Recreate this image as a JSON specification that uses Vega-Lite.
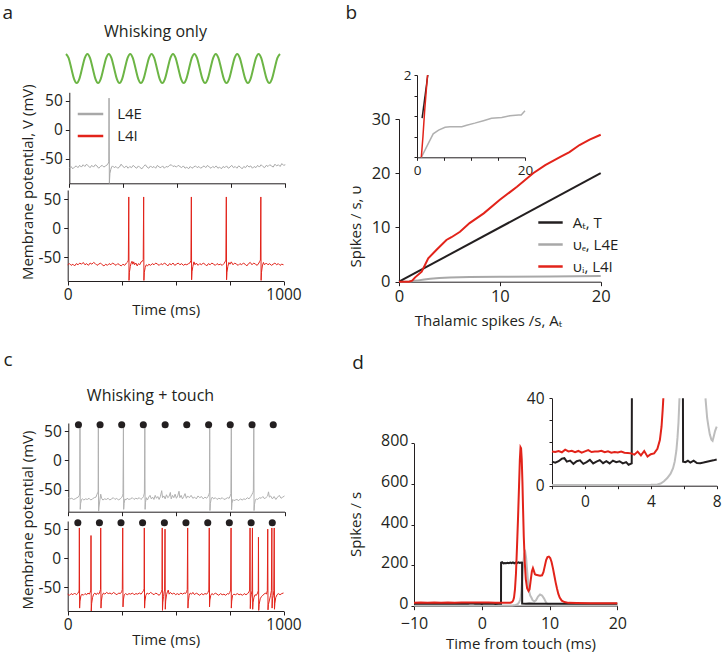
{
"$schema": "https://vega.github.io/schema/vega-lite/v6.json",
"width": 722, "height": 654, "autosize": {"type": "none"}, "padding": 0, "background": "white",
"datasets": {
"sine": [{"t":0,"v":1},{"t":12.5,"v":0.71},{"t":25,"v":0},{"t":37.5,"v":-0.71},{"t":50,"v":-1},{"t":62.5,"v":-0.71},{"t":75,"v":0},{"t":87.5,"v":0.71},
{"t":100,"v":1},{"t":112.5,"v":0.71},{"t":125,"v":0},{"t":137.5,"v":-0.71},{"t":150,"v":-1},{"t":162.5,"v":-0.71},{"t":175,"v":0},{"t":187.5,"v":0.71},
{"t":200,"v":1},{"t":212.5,"v":0.71},{"t":225,"v":0},{"t":237.5,"v":-0.71},{"t":250,"v":-1},{"t":262.5,"v":-0.71},{"t":275,"v":0},{"t":287.5,"v":0.71},
{"t":300,"v":1},{"t":312.5,"v":0.71},{"t":325,"v":0},{"t":337.5,"v":-0.71},{"t":350,"v":-1},{"t":362.5,"v":-0.71},{"t":375,"v":0},{"t":387.5,"v":0.71},
{"t":400,"v":1},{"t":412.5,"v":0.71},{"t":425,"v":0},{"t":437.5,"v":-0.71},{"t":450,"v":-1},{"t":462.5,"v":-0.71},{"t":475,"v":0},{"t":487.5,"v":0.71},
{"t":500,"v":1},{"t":512.5,"v":0.71},{"t":525,"v":0},{"t":537.5,"v":-0.71},{"t":550,"v":-1},{"t":562.5,"v":-0.71},{"t":575,"v":0},{"t":587.5,"v":0.71},
{"t":600,"v":1},{"t":612.5,"v":0.71},{"t":625,"v":0},{"t":637.5,"v":-0.71},{"t":650,"v":-1},{"t":662.5,"v":-0.71},{"t":675,"v":0},{"t":687.5,"v":0.71},
{"t":700,"v":1},{"t":712.5,"v":0.71},{"t":725,"v":0},{"t":737.5,"v":-0.71},{"t":750,"v":-1},{"t":762.5,"v":-0.71},{"t":775,"v":0},{"t":787.5,"v":0.71},
{"t":800,"v":1},{"t":812.5,"v":0.71},{"t":825,"v":0},{"t":837.5,"v":-0.71},{"t":850,"v":-1},{"t":862.5,"v":-0.71},{"t":875,"v":0},{"t":887.5,"v":0.71},
{"t":900,"v":1},{"t":912.5,"v":0.71},{"t":925,"v":0},{"t":937.5,"v":-0.71},{"t":950,"v":-1},{"t":962.5,"v":-0.71},{"t":975,"v":0},{"t":987.5,"v":0.71},{"t":1000,"v":1}],
"aE": [{"t":0,"v":-66},{"t":8,"v":-63},{"t":16,"v":-67},{"t":24,"v":-64},{"t":32,"v":-62},{"t":40,"v":-65},{"t":48,"v":-61},{"t":56,"v":-64},{"t":64,"v":-60},{"t":72,"v":-63},{"t":80,"v":-59},{"t":88,"v":-62},{"t":96,"v":-65},{"t":104,"v":-61},{"t":112,"v":-64},{"t":120,"v":-60},{"t":128,"v":-62},{"t":136,"v":-66},{"t":144,"v":-63},{"t":152,"v":-61},{"t":160,"v":-64},{"t":168,"v":-62},{"t":176,"v":-60},{"t":181,"v":-57},{"t":183,"v":-55},{"t":184,"v":55},{"t":185.5,"v":-92},{"t":188,"v":-75},{"t":192,"v":-68},{"t":196,"v":-64},{"t":200,"v":-62},{"t":208,"v":-65},{"t":216,"v":-63},{"t":224,"v":-66},{"t":232,"v":-64},{"t":240,"v":-59},{"t":248,"v":-63},{"t":256,"v":-65},{"t":264,"v":-62},{"t":272,"v":-66},{"t":280,"v":-63},{"t":288,"v":-65},{"t":296,"v":-61},{"t":304,"v":-64},{"t":312,"v":-66},{"t":320,"v":-62},{"t":328,"v":-65},{"t":336,"v":-67},{"t":344,"v":-63},{"t":352,"v":-60},{"t":360,"v":-64},{"t":368,"v":-66},{"t":376,"v":-62},{"t":384,"v":-65},{"t":392,"v":-63},{"t":400,"v":-66},{"t":408,"v":-61},{"t":416,"v":-64},{"t":424,"v":-65},{"t":432,"v":-62},{"t":440,"v":-66},{"t":448,"v":-63},{"t":456,"v":-64},{"t":464,"v":-61},{"t":472,"v":-60},{"t":480,"v":-63},{"t":488,"v":-62},{"t":496,"v":-64},{"t":504,"v":-61},{"t":512,"v":-63},{"t":520,"v":-65},{"t":528,"v":-62},{"t":536,"v":-66},{"t":544,"v":-64},{"t":552,"v":-67},{"t":560,"v":-63},{"t":568,"v":-66},{"t":576,"v":-64},{"t":584,"v":-62},{"t":592,"v":-65},{"t":600,"v":-63},{"t":608,"v":-66},{"t":616,"v":-64},{"t":624,"v":-62},{"t":632,"v":-65},{"t":640,"v":-61},{"t":648,"v":-64},{"t":656,"v":-66},{"t":664,"v":-63},{"t":672,"v":-65},{"t":680,"v":-62},{"t":688,"v":-66},{"t":696,"v":-64},{"t":704,"v":-67},{"t":712,"v":-63},{"t":720,"v":-65},{"t":728,"v":-62},{"t":736,"v":-66},{"t":744,"v":-64},{"t":752,"v":-61},{"t":760,"v":-65},{"t":768,"v":-63},{"t":776,"v":-66},{"t":784,"v":-62},{"t":792,"v":-64},{"t":800,"v":-67},{"t":808,"v":-63},{"t":816,"v":-65},{"t":824,"v":-61},{"t":832,"v":-64},{"t":840,"v":-62},{"t":848,"v":-66},{"t":856,"v":-63},{"t":864,"v":-65},{"t":872,"v":-61},{"t":880,"v":-64},{"t":888,"v":-60},{"t":896,"v":-63},{"t":904,"v":-65},{"t":912,"v":-61},{"t":920,"v":-63},{"t":928,"v":-60},{"t":936,"v":-62},{"t":944,"v":-64},{"t":952,"v":-59},{"t":960,"v":-62},{"t":968,"v":-60},{"t":976,"v":-63},{"t":984,"v":-58},{"t":992,"v":-61},{"t":1000,"v":-60}],
"aI": [{"t":0,"v":-63},{"t":8,"v":-61},{"t":16,"v":-64},{"t":24,"v":-62},{"t":32,"v":-65},{"t":40,"v":-61},{"t":48,"v":-63},{"t":56,"v":-60},{"t":64,"v":-62},{"t":72,"v":-59},{"t":80,"v":-63},{"t":88,"v":-61},{"t":96,"v":-64},{"t":104,"v":-60},{"t":112,"v":-62},{"t":120,"v":-59},{"t":128,"v":-61},{"t":136,"v":-64},{"t":144,"v":-62},{"t":152,"v":-60},{"t":160,"v":-63},{"t":168,"v":-65},{"t":176,"v":-62},{"t":184,"v":-64},{"t":192,"v":-61},{"t":200,"v":-63},{"t":208,"v":-60},{"t":216,"v":-62},{"t":224,"v":-64},{"t":232,"v":-61},{"t":240,"v":-63},{"t":248,"v":-65},{"t":256,"v":-62},{"t":264,"v":-64},{"t":272,"v":-60},{"t":278,"v":-58},{"t":281,"v":-55},{"t":283,"v":54},{"t":284.2,"v":-90},{"t":286,"v":-76},{"t":290,"v":-66},{"t":294,"v":-60},{"t":298,"v":-57},{"t":302,"v":-62},{"t":306,"v":-58},{"t":310,"v":-63},{"t":316,"v":-60},{"t":322,"v":-65},{"t":328,"v":-61},{"t":334,"v":-63},{"t":340,"v":-58},{"t":346,"v":-57},{"t":350,"v":-54},{"t":352,"v":54},{"t":353.2,"v":-90},{"t":355,"v":-76},{"t":359,"v":-68},{"t":364,"v":-63},{"t":370,"v":-65},{"t":376,"v":-62},{"t":384,"v":-64},{"t":392,"v":-61},{"t":400,"v":-63},{"t":408,"v":-60},{"t":416,"v":-62},{"t":424,"v":-64},{"t":432,"v":-61},{"t":440,"v":-63},{"t":448,"v":-60},{"t":456,"v":-62},{"t":464,"v":-65},{"t":472,"v":-61},{"t":480,"v":-63},{"t":488,"v":-60},{"t":496,"v":-64},{"t":504,"v":-62},{"t":512,"v":-60},{"t":520,"v":-63},{"t":528,"v":-61},{"t":536,"v":-64},{"t":544,"v":-62},{"t":552,"v":-63},{"t":560,"v":-61},{"t":566,"v":-60},{"t":571,"v":-56},{"t":573,"v":54},{"t":574.2,"v":-89},{"t":576,"v":-75},{"t":580,"v":-66},{"t":585,"v":-58},{"t":590,"v":-63},{"t":596,"v":-60},{"t":604,"v":-64},{"t":612,"v":-61},{"t":620,"v":-63},{"t":628,"v":-60},{"t":636,"v":-62},{"t":644,"v":-65},{"t":652,"v":-61},{"t":660,"v":-63},{"t":668,"v":-60},{"t":676,"v":-62},{"t":684,"v":-64},{"t":692,"v":-61},{"t":700,"v":-63},{"t":708,"v":-62},{"t":716,"v":-64},{"t":724,"v":-61},{"t":729,"v":-58},{"t":733,"v":-55},{"t":735,"v":54},{"t":736.2,"v":-89},{"t":738,"v":-76},{"t":742,"v":-66},{"t":747,"v":-59},{"t":752,"v":-62},{"t":758,"v":-58},{"t":766,"v":-63},{"t":774,"v":-60},{"t":782,"v":-62},{"t":790,"v":-64},{"t":798,"v":-61},{"t":806,"v":-63},{"t":814,"v":-60},{"t":822,"v":-62},{"t":830,"v":-65},{"t":838,"v":-61},{"t":846,"v":-59},{"t":854,"v":-63},{"t":862,"v":-60},{"t":870,"v":-62},{"t":878,"v":-64},{"t":886,"v":-60},{"t":890,"v":-57},{"t":893,"v":-55},{"t":895,"v":54},{"t":896.2,"v":-90},{"t":898,"v":-76},{"t":902,"v":-65},{"t":907,"v":-59},{"t":912,"v":-63},{"t":920,"v":-60},{"t":928,"v":-63},{"t":936,"v":-61},{"t":944,"v":-64},{"t":952,"v":-62},{"t":960,"v":-60},{"t":968,"v":-63},{"t":976,"v":-61},{"t":984,"v":-64},{"t":992,"v":-62},{"t":1000,"v":-63}],
"cE": [{"t":0,"v":-64},{"t":8,"v":-66},{"t":16,"v":-65},{"t":24,"v":-67},{"t":32,"v":-66},{"t":40,"v":-64},{"t":46,"v":-63},{"t":51,"v":-60},{"t":53,"v":-56},{"t":54,"v":60},{"t":55.2,"v":-84},{"t":57,"v":-74},{"t":61,"v":-67},{"t":66,"v":-66},{"t":72,"v":-68},{"t":80,"v":-66},{"t":88,"v":-67},{"t":96,"v":-65},{"t":104,"v":-68},{"t":112,"v":-66},{"t":120,"v":-64},{"t":128,"v":-63},{"t":133,"v":-58},{"t":136,"v":-55},{"t":138,"v":-53},{"t":139,"v":60},{"t":140.2,"v":-88},{"t":142,"v":-80},{"t":146,"v":-68},{"t":150,"v":-58},{"t":154,"v":-65},{"t":160,"v":-68},{"t":168,"v":-66},{"t":176,"v":-67},{"t":184,"v":-65},{"t":192,"v":-68},{"t":200,"v":-66},{"t":208,"v":-64},{"t":216,"v":-67},{"t":224,"v":-65},{"t":232,"v":-68},{"t":240,"v":-66},{"t":246,"v":-64},{"t":251,"v":-61},{"t":253,"v":-57},{"t":255,"v":60},{"t":256.2,"v":-84},{"t":258,"v":-74},{"t":262,"v":-66},{"t":266,"v":-68},{"t":272,"v":-65},{"t":280,"v":-67},{"t":288,"v":-66},{"t":296,"v":-64},{"t":304,"v":-67},{"t":312,"v":-65},{"t":320,"v":-66},{"t":328,"v":-64},{"t":336,"v":-67},{"t":342,"v":-65},{"t":348,"v":-62},{"t":352,"v":-56},{"t":354,"v":60},{"t":355.2,"v":-84},{"t":357,"v":-72},{"t":361,"v":-64},{"t":366,"v":-68},{"t":372,"v":-63},{"t":378,"v":-60},{"t":384,"v":-66},{"t":390,"v":-63},{"t":396,"v":-67},{"t":402,"v":-60},{"t":408,"v":-65},{"t":414,"v":-62},{"t":420,"v":-67},{"t":426,"v":-62},{"t":432,"v":-52},{"t":436,"v":-64},{"t":442,"v":-61},{"t":448,"v":-66},{"t":454,"v":-59},{"t":460,"v":-64},{"t":466,"v":-62},{"t":472,"v":-55},{"t":476,"v":-66},{"t":482,"v":-60},{"t":488,"v":-64},{"t":494,"v":-58},{"t":500,"v":-65},{"t":506,"v":-61},{"t":512,"v":-53},{"t":516,"v":-64},{"t":522,"v":-60},{"t":528,"v":-66},{"t":534,"v":-62},{"t":540,"v":-57},{"t":546,"v":-65},{"t":552,"v":-61},{"t":560,"v":-64},{"t":568,"v":-60},{"t":576,"v":-65},{"t":584,"v":-63},{"t":592,"v":-66},{"t":600,"v":-61},{"t":608,"v":-64},{"t":616,"v":-62},{"t":624,"v":-66},{"t":632,"v":-63},{"t":640,"v":-65},{"t":646,"v":-62},{"t":651,"v":-58},{"t":653,"v":-55},{"t":654,"v":60},{"t":655.2,"v":-86},{"t":657,"v":-74},{"t":661,"v":-66},{"t":666,"v":-63},{"t":672,"v":-66},{"t":680,"v":-64},{"t":688,"v":-67},{"t":696,"v":-65},{"t":704,"v":-66},{"t":712,"v":-64},{"t":720,"v":-67},{"t":728,"v":-66},{"t":736,"v":-64},{"t":744,"v":-65},{"t":749,"v":-61},{"t":752,"v":-57},{"t":754,"v":60},{"t":755.2,"v":-85},{"t":757,"v":-74},{"t":761,"v":-67},{"t":766,"v":-69},{"t":772,"v":-68},{"t":780,"v":-67},{"t":788,"v":-69},{"t":796,"v":-66},{"t":804,"v":-68},{"t":812,"v":-66},{"t":820,"v":-67},{"t":828,"v":-64},{"t":836,"v":-66},{"t":844,"v":-62},{"t":850,"v":-58},{"t":854,"v":-55},{"t":856,"v":-52},{"t":858,"v":60},{"t":859.2,"v":-86},{"t":861,"v":-76},{"t":865,"v":-68},{"t":870,"v":-66},{"t":876,"v":-67},{"t":884,"v":-64},{"t":892,"v":-65},{"t":900,"v":-62},{"t":908,"v":-66},{"t":916,"v":-63},{"t":922,"v":-61},{"t":926,"v":-54},{"t":930,"v":-63},{"t":936,"v":-61},{"t":944,"v":-66},{"t":952,"v":-62},{"t":960,"v":-67},{"t":968,"v":-63},{"t":976,"v":-60},{"t":984,"v":-65},{"t":992,"v":-63},{"t":1000,"v":-61}],
"cI": [{"t":0,"v":-62},{"t":8,"v":-64},{"t":16,"v":-61},{"t":24,"v":-63},{"t":32,"v":-60},{"t":40,"v":-63},{"t":46,"v":-61},{"t":51,"v":-58},{"t":53,"v":-55},{"t":54,"v":52},{"t":55.2,"v":-86},{"t":57,"v":-74},{"t":61,"v":-65},{"t":66,"v":-62},{"t":72,"v":-64},{"t":80,"v":-61},{"t":88,"v":-63},{"t":94,"v":-60},{"t":100,"v":-62},{"t":104,"v":-59},{"t":107,"v":-55},{"t":108,"v":39},{"t":109.2,"v":-91},{"t":111,"v":-78},{"t":115,"v":-68},{"t":120,"v":-62},{"t":126,"v":-60},{"t":132,"v":-63},{"t":138,"v":-60},{"t":144,"v":-62},{"t":149,"v":-58},{"t":152,"v":-54},{"t":153,"v":52},{"t":154.2,"v":-86},{"t":156,"v":-74},{"t":160,"v":-64},{"t":166,"v":-60},{"t":172,"v":-62},{"t":180,"v":-59},{"t":188,"v":-61},{"t":196,"v":-60},{"t":204,"v":-62},{"t":212,"v":-59},{"t":220,"v":-61},{"t":228,"v":-63},{"t":236,"v":-60},{"t":244,"v":-61},{"t":250,"v":-58},{"t":253,"v":-54},{"t":255,"v":52},{"t":256.2,"v":-84},{"t":258,"v":-72},{"t":262,"v":-63},{"t":268,"v":-61},{"t":276,"v":-63},{"t":284,"v":-61},{"t":292,"v":-62},{"t":300,"v":-60},{"t":308,"v":-63},{"t":316,"v":-61},{"t":324,"v":-62},{"t":332,"v":-60},{"t":340,"v":-62},{"t":346,"v":-59},{"t":351,"v":-56},{"t":354,"v":-53},{"t":355,"v":52},{"t":356.2,"v":-86},{"t":358,"v":-74},{"t":362,"v":-64},{"t":368,"v":-60},{"t":376,"v":-62},{"t":384,"v":-59},{"t":392,"v":-61},{"t":400,"v":-63},{"t":408,"v":-60},{"t":416,"v":-62},{"t":424,"v":-64},{"t":430,"v":-61},{"t":435,"v":-57},{"t":437,"v":-54},{"t":438,"v":52},{"t":439.2,"v":-90},{"t":441,"v":-76},{"t":444,"v":-66},{"t":447,"v":-58},{"t":449,"v":-55},{"t":451,"v":50},{"t":452.2,"v":-88},{"t":454,"v":-74},{"t":458,"v":-63},{"t":462,"v":-58},{"t":466,"v":-55},{"t":470,"v":-62},{"t":476,"v":-59},{"t":484,"v":-62},{"t":492,"v":-60},{"t":500,"v":-63},{"t":508,"v":-61},{"t":516,"v":-63},{"t":524,"v":-60},{"t":532,"v":-62},{"t":540,"v":-60},{"t":546,"v":-61},{"t":551,"v":-58},{"t":554,"v":-54},{"t":556,"v":52},{"t":557.2,"v":-86},{"t":559,"v":-74},{"t":563,"v":-64},{"t":568,"v":-60},{"t":574,"v":-62},{"t":580,"v":-59},{"t":588,"v":-63},{"t":596,"v":-60},{"t":604,"v":-62},{"t":612,"v":-64},{"t":620,"v":-61},{"t":628,"v":-63},{"t":636,"v":-61},{"t":644,"v":-62},{"t":650,"v":-59},{"t":654,"v":-55},{"t":656,"v":52},{"t":657.2,"v":-84},{"t":659,"v":-72},{"t":663,"v":-64},{"t":668,"v":-61},{"t":676,"v":-63},{"t":684,"v":-60},{"t":692,"v":-62},{"t":700,"v":-64},{"t":708,"v":-61},{"t":716,"v":-63},{"t":724,"v":-62},{"t":732,"v":-64},{"t":740,"v":-61},{"t":746,"v":-62},{"t":751,"v":-59},{"t":755,"v":-55},{"t":757,"v":52},{"t":758.2,"v":-86},{"t":760,"v":-74},{"t":764,"v":-64},{"t":770,"v":-62},{"t":778,"v":-63},{"t":786,"v":-61},{"t":794,"v":-63},{"t":802,"v":-62},{"t":810,"v":-64},{"t":818,"v":-61},{"t":826,"v":-63},{"t":834,"v":-61},{"t":840,"v":-58},{"t":843,"v":-55},{"t":845,"v":52},{"t":846.2,"v":-87},{"t":848,"v":-70},{"t":851,"v":-62},{"t":854,"v":-56},{"t":856,"v":52},{"t":857.2,"v":-88},{"t":859,"v":-76},{"t":863,"v":-68},{"t":868,"v":-63},{"t":874,"v":-64},{"t":880,"v":-60},{"t":883,"v":-56},{"t":884,"v":36},{"t":885.2,"v":-90},{"t":887,"v":-80},{"t":892,"v":-70},{"t":898,"v":-66},{"t":904,"v":-64},{"t":910,"v":-62},{"t":916,"v":-60},{"t":921,"v":-62},{"t":925,"v":-56},{"t":927,"v":50},{"t":928.2,"v":-89},{"t":930,"v":-80},{"t":935,"v":-72},{"t":940,"v":-64},{"t":944,"v":-56},{"t":946,"v":52},{"t":947.2,"v":-86},{"t":949,"v":-70},{"t":953,"v":-64},{"t":955,"v":-56},{"t":957,"v":52},{"t":958.2,"v":-88},{"t":960,"v":-78},{"t":964,"v":-68},{"t":970,"v":-63},{"t":976,"v":-61},{"t":984,"v":-63},{"t":992,"v":-61},{"t":1000,"v":-60}],
"dots": [{"t":47,"v":61},{"t":147,"v":61},{"t":247,"v":61},{"t":347,"v":61},{"t":448,"v":61},{"t":548,"v":61},{"t":649,"v":61},{"t":749,"v":61},{"t":850,"v":61},{"t":948,"v":61}],
"bBlack": [{"x":0,"y":0},{"x":20,"y":20}],
"bGray": [{"x":0,"y":0},{"x":1,"y":0.05},{"x":1.75,"y":0.2},{"x":2.5,"y":0.42},{"x":3.1,"y":0.55},{"x":4,"y":0.68},{"x":5.05,"y":0.78},{"x":7,"y":0.85},{"x":10,"y":0.9},{"x":15,"y":0.97},{"x":20,"y":1.05}],
"bRed": [{"x":0,"y":0},{"x":1.0,"y":0},{"x":1.3,"y":0.2},{"x":1.6,"y":0.8},{"x":2.25,"y":1.85},{"x":2.9,"y":4.3},{"x":3.7,"y":5.85},{"x":4.7,"y":7.7},{"x":5.2,"y":8.2},{"x":6.05,"y":9.2},{"x":7.0,"y":10.8},{"x":8.4,"y":12.6},{"x":10.0,"y":15.1},{"x":11.7,"y":17.5},{"x":13.3,"y":20.0},{"x":14.5,"y":21.5},{"x":16.0,"y":23.0},{"x":16.9,"y":23.9},{"x":17.9,"y":25.2},{"x":18.9,"y":26.2},{"x":20,"y":27.1}],
"bInGray": [{"x":0.8,"y":0},{"x":1.5,"y":0.18},{"x":2.1,"y":0.34},{"x":3.0,"y":0.57},{"x":4.0,"y":0.66},{"x":5.2,"y":0.73},{"x":6.1,"y":0.745},{"x":8.3,"y":0.745},{"x":9.2,"y":0.78},{"x":10.7,"y":0.83},{"x":12.3,"y":0.89},{"x":13.8,"y":0.95},{"x":15.7,"y":0.97},{"x":17.2,"y":1.01},{"x":18.8,"y":1.03},{"x":19.3,"y":1.03},{"x":20,"y":1.13}],
"bInBlack": [{"x":0.95,"y":0.95},{"x":2,"y":2}],
"bInRed": [{"x":0.8,"y":0},{"x":1.1,"y":0.5},{"x":1.4,"y":1.1},{"x":1.7,"y":1.6},{"x":1.95,"y":2.0}],
"dBlack": [{"x":-10,"y":10},{"x":-9,"y":11},{"x":-8,"y":9},{"x":-7,"y":10},{"x":-6,"y":11},{"x":-5,"y":9},{"x":-4,"y":10},{"x":-3,"y":11},{"x":-2,"y":10},{"x":-1.5,"y":12},{"x":-1,"y":10},{"x":-0.5,"y":11},{"x":0,"y":9},{"x":0.5,"y":11},{"x":1,"y":10},{"x":1.5,"y":11},{"x":2,"y":9},{"x":2.5,"y":10},{"x":2.84,"y":10},{"x":2.85,"y":212},{"x":3.0,"y":214},{"x":3.2,"y":208},{"x":3.4,"y":210},{"x":3.6,"y":209},{"x":3.8,"y":211},{"x":4.0,"y":209},{"x":4.2,"y":212},{"x":4.4,"y":210},{"x":4.6,"y":213},{"x":4.8,"y":209},{"x":5.0,"y":212},{"x":5.2,"y":210},{"x":5.4,"y":214},{"x":5.6,"y":211},{"x":5.8,"y":213},{"x":5.95,"y":212},{"x":5.96,"y":11},{"x":6.5,"y":10},{"x":7,"y":11},{"x":8,"y":10},{"x":9,"y":10},{"x":10,"y":9},{"x":11,"y":10},{"x":12,"y":9},{"x":13,"y":10},{"x":14,"y":9},{"x":15,"y":10},{"x":16,"y":9},{"x":17,"y":10},{"x":18,"y":9},{"x":19,"y":10},{"x":20,"y":10}],
"dGray": [{"x":-10,"y":0.5},{"x":-5,"y":0.5},{"x":0,"y":0.5},{"x":3,"y":0.5},{"x":4.5,"y":1},{"x":5,"y":3.5},{"x":5.3,"y":8},{"x":5.5,"y":16},{"x":5.65,"y":28},{"x":5.75,"y":40},{"x":5.85,"y":75},{"x":6.0,"y":150},{"x":6.15,"y":220},{"x":6.3,"y":258},{"x":6.42,"y":265},{"x":6.55,"y":235},{"x":6.7,"y":170},{"x":6.85,"y":110},{"x":7.0,"y":70},{"x":7.15,"y":50},{"x":7.32,"y":40},{"x":7.5,"y":27},{"x":7.75,"y":20.5},{"x":8.0,"y":27},{"x":8.3,"y":45},{"x":8.6,"y":55},{"x":8.9,"y":50},{"x":9.2,"y":35},{"x":9.5,"y":15},{"x":9.8,"y":6},{"x":10.2,"y":2},{"x":11,"y":1},{"x":12,"y":0.5},{"x":20,"y":0.5}],
"dRed": [{"x":-10,"y":15},{"x":-9,"y":16},{"x":-8,"y":15},{"x":-7,"y":15.5},{"x":-6,"y":15},{"x":-5,"y":16},{"x":-4,"y":15},{"x":-3,"y":15.5},{"x":-2,"y":15.5},{"x":-1,"y":16},{"x":0,"y":15.5},{"x":1,"y":15.5},{"x":2,"y":15},{"x":2.5,"y":15},{"x":3,"y":14},{"x":3.5,"y":14},{"x":4,"y":14.5},{"x":4.2,"y":15},{"x":4.4,"y":17},{"x":4.55,"y":21},{"x":4.65,"y":27},{"x":4.76,"y":40},{"x":4.9,"y":80},{"x":5.05,"y":160},{"x":5.2,"y":290},{"x":5.35,"y":430},{"x":5.5,"y":590},{"x":5.62,"y":720},{"x":5.72,"y":780},{"x":5.8,"y":775},{"x":5.9,"y":720},{"x":6.0,"y":610},{"x":6.1,"y":470},{"x":6.2,"y":340},{"x":6.35,"y":210},{"x":6.5,"y":130},{"x":6.7,"y":85},{"x":6.9,"y":72},{"x":7.05,"y":80},{"x":7.2,"y":120},{"x":7.4,"y":170},{"x":7.55,"y":185},{"x":7.7,"y":170},{"x":7.85,"y":155},{"x":8.0,"y":152},{"x":8.3,"y":150},{"x":8.6,"y":148},{"x":8.9,"y":150},{"x":9.1,"y":165},{"x":9.3,"y":195},{"x":9.5,"y":225},{"x":9.7,"y":240},{"x":9.9,"y":242},{"x":10.1,"y":235},{"x":10.3,"y":215},{"x":10.5,"y":185},{"x":10.7,"y":150},{"x":10.9,"y":115},{"x":11.1,"y":85},{"x":11.3,"y":58},{"x":11.5,"y":40},{"x":11.8,"y":25},{"x":12.2,"y":18},{"x":12.8,"y":14},{"x":14,"y":13},{"x":16,"y":12},{"x":18,"y":12},{"x":20,"y":12}],
"dInBlack": [{"x":-2,"y":11,"seg":"a"},{"x":-1.8,"y":10.5,"seg":"a"},{"x":-1.6,"y":11.2,"seg":"a"},{"x":-1.4,"y":12.4,"seg":"a"},{"x":-1.25,"y":12.6,"seg":"a"},{"x":-1.1,"y":11,"seg":"a"},{"x":-0.9,"y":11.5,"seg":"a"},{"x":-0.7,"y":10,"seg":"a"},{"x":-0.5,"y":11.2,"seg":"a"},{"x":-0.3,"y":11.6,"seg":"a"},{"x":-0.1,"y":10,"seg":"a"},{"x":0.1,"y":10.8,"seg":"a"},{"x":0.3,"y":11.8,"seg":"a"},{"x":0.5,"y":10.2,"seg":"a"},{"x":0.7,"y":11,"seg":"a"},{"x":0.9,"y":11.7,"seg":"a"},{"x":1.1,"y":10.3,"seg":"a"},{"x":1.3,"y":11.2,"seg":"a"},{"x":1.5,"y":10.2,"seg":"a"},{"x":1.7,"y":11.5,"seg":"a"},{"x":1.9,"y":10.8,"seg":"a"},{"x":2.1,"y":11.2,"seg":"a"},{"x":2.3,"y":10.2,"seg":"a"},{"x":2.5,"y":10.8,"seg":"a"},{"x":2.65,"y":9.6,"seg":"a"},{"x":2.84,"y":10.2,"seg":"a"},{"x":2.85,"y":40,"seg":"a"},
{"x":5.95,"y":40,"seg":"b"},{"x":5.96,"y":11,"seg":"b"},{"x":6.1,"y":10.8,"seg":"b"},{"x":6.25,"y":11.4,"seg":"b"},{"x":6.4,"y":10.6,"seg":"b"},{"x":6.6,"y":11.5,"seg":"b"},{"x":6.8,"y":10.4,"seg":"b"},{"x":7.0,"y":10.3,"seg":"b"},{"x":7.2,"y":10.6,"seg":"b"},{"x":7.4,"y":11,"seg":"b"},{"x":7.6,"y":11.3,"seg":"b"},{"x":7.8,"y":11.6,"seg":"b"},{"x":8,"y":12,"seg":"b"}],
"dInRed": [{"x":-2,"y":15.7},{"x":-1.8,"y":15.4},{"x":-1.6,"y":15.9},{"x":-1.4,"y":15.3},{"x":-1.2,"y":16.5},{"x":-1,"y":15.7},{"x":-0.8,"y":16},{"x":-0.6,"y":15.3},{"x":-0.4,"y":15.9},{"x":-0.2,"y":15.1},{"x":0,"y":15.7},{"x":0.2,"y":16.3},{"x":0.4,"y":15.4},{"x":0.6,"y":15.6},{"x":0.8,"y":15.7},{"x":1,"y":16},{"x":1.2,"y":15.3},{"x":1.4,"y":15.7},{"x":1.6,"y":15.1},{"x":1.8,"y":15.4},{"x":2,"y":15.2},{"x":2.2,"y":15.6},{"x":2.4,"y":15.1},{"x":2.6,"y":15},{"x":2.8,"y":14.8},{"x":3.0,"y":14.2},{"x":3.2,"y":15.6},{"x":3.4,"y":13.9},{"x":3.6,"y":15.9},{"x":3.8,"y":13.3},{"x":4.0,"y":14.4},{"x":4.2,"y":14.8},{"x":4.4,"y":16.9},{"x":4.55,"y":20.9},{"x":4.65,"y":27},{"x":4.72,"y":34.7},{"x":4.76,"y":40}],
"dInGray": [{"x":-2,"y":0.3,"seg":"a"},{"x":0,"y":0.3,"seg":"a"},{"x":2,"y":0.3,"seg":"a"},{"x":3,"y":0.3,"seg":"a"},{"x":4,"y":0.4,"seg":"a"},{"x":4.4,"y":0.6,"seg":"a"},{"x":4.6,"y":1,"seg":"a"},{"x":4.8,"y":2,"seg":"a"},{"x":5,"y":3.5,"seg":"a"},{"x":5.2,"y":5.5,"seg":"a"},{"x":5.35,"y":8,"seg":"a"},{"x":5.45,"y":11,"seg":"a"},{"x":5.55,"y":16,"seg":"a"},{"x":5.62,"y":22,"seg":"a"},{"x":5.68,"y":29,"seg":"a"},{"x":5.74,"y":40,"seg":"a"},
{"x":7.32,"y":40,"seg":"b"},{"x":7.42,"y":31,"seg":"b"},{"x":7.5,"y":27,"seg":"b"},{"x":7.58,"y":23.5,"seg":"b"},{"x":7.68,"y":21,"seg":"b"},{"x":7.75,"y":20.5,"seg":"b"},{"x":7.82,"y":22.5,"seg":"b"},{"x":7.9,"y":25,"seg":"b"},{"x":8,"y":27,"seg":"b"}]
},
"layer": [
{"data": {"name": "sine"},
 "mark": {"type": "line", "color": "#6cb545", "strokeWidth": 2, "interpolate": "monotone"},
 "encoding": {
  "x": {"field": "t", "type": "quantitative", "scale": {"domain": [0, 1000], "range": [66, 280], "nice": false, "zero": false},
        "axis": {"orient": "top", "offset": 0, "domain": false, "ticks": false, "labels": false, "title": "Whisking only", "titleX": 155, "titleY": 36.7, "titleAlign": "center", "titleBaseline": "alphabetic", "titleAngle": 0, "titleFontSize": 16}},
  "y": {"field": "v", "type": "quantitative", "scale": {"domain": [-1, 1], "range": [83, 54], "nice": false, "zero": false},
        "axis": {"orient": "left", "offset": 0, "domain": false, "ticks": false, "labels": false, "title": "a", "titleX": 2, "titleY": 18.3, "titleAngle": 0, "titleAlign": "left", "titleBaseline": "alphabetic", "titleFontSize": 19}}
 }},
{"data": {"name": "aE"},
 "mark": {"type": "line", "strokeWidth": 1},
 "encoding": {
  "x": {"field": "t", "type": "quantitative", "scale": {"domain": [0, 1000], "range": [69.3, 285.3], "nice": false, "zero": false},
        "axis": {"orient": "bottom", "offset": -470.7, "values": [0, 250, 500, 750, 1000], "labels": false, "title": null}},
  "y": {"field": "v", "type": "quantitative", "scale": {"domain": [-92, 65], "range": [183.3, 92.3], "nice": false, "zero": false},
        "axis": {"orient": "left", "offset": -69.3, "values": [-50, 0, 50], "labelFontSize": 15.5, "labelExpr": "datum.value < 0 ? '-' + abs(datum.value) : '' + datum.value", "title": "Membrane potential, V (mV)", "titleX": -37, "titleY": 181.7, "titleAngle": 270, "titleAlign": "center", "titleBaseline": "alphabetic"}},
  "color": {"datum": "L4E", "type": "nominal", "scale": {"domain": ["L4E", "L4I"], "range": ["#a8a8a8", "#e2231a"]},
            "legend": {"orient": "none", "legendX": 76.5, "legendY": 100, "title": null, "symbolType": "stroke", "symbolSize": 650, "symbolStrokeWidth": 2.5, "labelOffset": 12.7, "direction": "vertical", "rowPadding": -6.7}}
 }},
{"data": {"name": "aI"},
 "mark": {"type": "line", "color": "#e2231a", "strokeWidth": 1},
 "encoding": {
  "x": {"field": "t", "type": "quantitative", "scale": {"domain": [0, 1000], "range": [67.7, 283.5], "nice": false, "zero": false},
        "axis": {"orient": "bottom", "offset": -373, "values": [0, 250, 500, 750, 1000], "labelFontSize": 15.5, "labelExpr": "datum.value == 0 || datum.value == 1000 ? '' + datum.value : ''", "labelPadding": 2, "title": "Time (ms)", "titleX": 165.7, "titleY": 33.3, "titleAlign": "center", "titleBaseline": "alphabetic"}},
  "y": {"field": "v", "type": "quantitative", "scale": {"domain": [-91, 66], "range": [281, 190], "nice": false, "zero": false},
        "axis": {"orient": "left", "offset": -67.7, "values": [-50, 0, 50], "labelFontSize": 15.5, "labelExpr": "datum.value < 0 ? '-' + abs(datum.value) : '' + datum.value", "title": null}}
 }},
{"encoding": {
  "x": {"field": "x", "type": "quantitative", "scale": {"domain": [0, 20], "range": [417, 525], "nice": false, "zero": false},
        "axis": {"orient": "bottom", "offset": -496.7, "values": [0, 5, 10, 15, 20], "tickSize": 3, "labelFontSize": 13.5, "labelExpr": "datum.value == 0 || datum.value == 20 ? '' + datum.value : ''", "title": "b", "titleX": 345, "titleY": -139, "titleAngle": 0, "titleAlign": "left", "titleBaseline": "alphabetic", "titleFontSize": 19}},
  "y": {"field": "y", "type": "quantitative", "scale": {"domain": [0, 2], "range": [157.3, 75], "nice": false, "zero": false},
        "axis": {"orient": "left", "offset": -417, "values": [0, 0.5, 1, 1.5, 2], "tickSize": 3, "labelFontSize": 13.5, "labelExpr": "datum.value == 2 ? '2' : ''", "title": null}}
 },
 "layer": [
  {"data": {"name": "bInGray"}, "mark": {"type": "line", "color": "#b0b0b0", "strokeWidth": 1.5}},
  {"data": {"name": "bInBlack"}, "mark": {"type": "line", "color": "#231f20", "strokeWidth": 1.5}},
  {"data": {"name": "bInRed"}, "mark": {"type": "line", "color": "#e2231a", "strokeWidth": 1.5}}
 ]},
{"encoding": {
  "x": {"field": "x", "type": "quantitative", "scale": {"domain": [0, 20], "range": [399, 600.7], "nice": false, "zero": false},
        "axis": {"orient": "bottom", "offset": -372.3, "values": [0, 10, 20], "labelFontSize": 16.5, "labelPadding": 3, "title": "Thalamic spikes /s, Aₜ", "titleX": 488, "titleY": 44, "titleAlign": "center", "titleBaseline": "alphabetic"}},
  "y": {"field": "y", "type": "quantitative", "scale": {"domain": [0, 30], "range": [281.7, 119], "nice": false, "zero": false},
        "axis": {"orient": "left", "offset": -399, "values": [0, 10, 20, 30], "labelFontSize": 16.5, "labelPadding": 5, "title": "Spikes / s, υ", "titleX": -38.6, "titleY": 226, "titleAngle": 270, "titleAlign": "center", "titleBaseline": "alphabetic"}}
 },
 "layer": [
  {"data": {"name": "bGray"}, "mark": {"type": "line", "strokeWidth": 2},
   "encoding": {"color": {"datum": "υₑ, L4E", "type": "nominal", "scale": {"domain": ["Aₜ, T", "υₑ, L4E", "υᵢ, L4I"], "range": ["#231f20", "#a8a8a8", "#e2231a"]},
     "legend": {"orient": "none", "legendX": 537, "legendY": 209, "title": null, "symbolType": "stroke", "symbolSize": 595, "symbolStrokeWidth": 2.5, "labelOffset": 8.8, "direction": "vertical", "rowPadding": -2.3}}}},
  {"data": {"name": "bBlack"}, "mark": {"type": "line", "strokeWidth": 2},
   "encoding": {"color": {"datum": "Aₜ, T", "type": "nominal", "scale": {"domain": ["Aₜ, T", "υₑ, L4E", "υᵢ, L4I"], "range": ["#231f20", "#a8a8a8", "#e2231a"]},
     "legend": {"orient": "none", "legendX": 537, "legendY": 209, "title": null, "symbolType": "stroke", "symbolSize": 595, "symbolStrokeWidth": 2.5, "labelOffset": 8.8, "direction": "vertical", "rowPadding": -2.3}}}},
  {"data": {"name": "bRed"}, "mark": {"type": "line", "strokeWidth": 2},
   "encoding": {"color": {"datum": "υᵢ, L4I", "type": "nominal", "scale": {"domain": ["Aₜ, T", "υₑ, L4E", "υᵢ, L4I"], "range": ["#231f20", "#a8a8a8", "#e2231a"]},
     "legend": {"orient": "none", "legendX": 537, "legendY": 209, "title": null, "symbolType": "stroke", "symbolSize": 595, "symbolStrokeWidth": 2.5, "labelOffset": 8.8, "direction": "vertical", "rowPadding": -2.3}}}}
 ]},
{"data": {"name": "cE"},
 "mark": {"type": "line", "color": "#b0b0b0", "strokeWidth": 1},
 "encoding": {
  "x": {"field": "t", "type": "quantitative", "scale": {"domain": [0, 1000], "range": [68.3, 284.5], "nice": false, "zero": false},
        "axis": {"orient": "bottom", "offset": -142.3, "values": [0, 250, 500, 750, 1000], "labels": false, "title": null}},
  "y": {"field": "v", "type": "quantitative", "scale": {"domain": [-88, 64], "range": [511.7, 423], "nice": false, "zero": false},
        "axis": {"orient": "left", "offset": -68.3, "values": [-50, 0, 50], "labelFontSize": 15.5, "labelExpr": "datum.value < 0 ? '-' + abs(datum.value) : '' + datum.value", "title": "Membrane potential (mV)", "titleX": -36, "titleY": 519.5, "titleAngle": 270, "titleAlign": "center", "titleBaseline": "alphabetic"}}
 }},
{"data": {"name": "cI"},
 "mark": {"type": "line", "color": "#e2231a", "strokeWidth": 1},
 "encoding": {
  "x": {"field": "t", "type": "quantitative", "scale": {"domain": [0, 1000], "range": [67.7, 283.5], "nice": false, "zero": false},
        "axis": {"orient": "bottom", "offset": -43, "values": [0, 250, 500, 750, 1000], "labelFontSize": 15.5, "labelExpr": "datum.value == 0 || datum.value == 1000 ? '' + datum.value : ''", "labelPadding": 2, "title": "Time (ms)", "titleX": 165.7, "titleY": 33.3, "titleAlign": "center", "titleBaseline": "alphabetic"}},
  "y": {"field": "v", "type": "quantitative", "scale": {"domain": [-91, 64], "range": [611, 521], "nice": false, "zero": false},
        "axis": {"orient": "left", "offset": -67.7, "values": [-50, 0, 50], "labelFontSize": 15.5, "labelExpr": "datum.value < 0 ? '-' + abs(datum.value) : '' + datum.value", "title": null}}
 }},
{"data": {"name": "dots"},
 "mark": {"type": "point", "filled": true, "color": "#231f20", "size": 50, "opacity": 1},
 "encoding": {
  "x": {"field": "t", "type": "quantitative", "scale": {"domain": [0, 1000], "range": [68.3, 284.5], "nice": false, "zero": false},
        "axis": {"orient": "top", "offset": 0, "domain": false, "ticks": false, "labels": false, "title": "Whisking + touch", "titleX": 150, "titleY": 400.7, "titleAngle": 0, "titleAlign": "center", "titleBaseline": "alphabetic", "titleFontSize": 16}},
  "y": {"field": "v", "type": "quantitative", "scale": {"domain": [-88, 64], "range": [511.7, 423], "nice": false, "zero": false},
        "axis": {"orient": "left", "offset": 0, "domain": false, "ticks": false, "labels": false, "title": "c", "titleX": 3, "titleY": 365, "titleAngle": 0, "titleAlign": "left", "titleBaseline": "alphabetic", "titleFontSize": 19}}
 }},
{"data": {"name": "dots"},
 "mark": {"type": "point", "filled": true, "color": "#231f20", "size": 50, "opacity": 1},
 "encoding": {
  "x": {"field": "t", "type": "quantitative", "scale": {"domain": [0, 1000], "range": [67.7, 283.5], "nice": false, "zero": false}, "axis": null},
  "y": {"field": "v", "type": "quantitative", "scale": {"domain": [-91, 64], "range": [611, 521], "nice": false, "zero": false}, "axis": null}
 }},
{"encoding": {
  "x": {"field": "x", "type": "quantitative", "scale": {"domain": [-10, 20], "range": [414, 617.3], "nice": false, "zero": false},
        "axis": {"orient": "bottom", "offset": -48.3, "values": [-10, 0, 10, 20], "labelFontSize": 16, "labelPadding": 6, "title": "Time from touch (ms)", "titleX": 520.5, "titleY": 42.6, "titleAlign": "center", "titleBaseline": "alphabetic"}},
  "y": {"field": "y", "type": "quantitative", "scale": {"domain": [0, 800], "range": [605.7, 443.3], "nice": false, "zero": false},
        "axis": {"orient": "left", "offset": -414, "values": [0, 200, 400, 600, 800], "tickSize": 3, "labelFontSize": 16, "labelPadding": 3, "labelOffset": -2.5, "title": "Spikes / s", "titleX": -53.6, "titleY": 524, "titleAngle": 270, "titleAlign": "center", "titleBaseline": "alphabetic"}}
 },
 "layer": [
  {"data": {"name": "dGray"}, "mark": {"type": "line", "color": "#bdbdbd", "strokeWidth": 2}},
  {"data": {"name": "dBlack"}, "mark": {"type": "line", "color": "#231f20", "strokeWidth": 2}},
  {"data": {"name": "dRed"}, "mark": {"type": "line", "color": "#e2231a", "strokeWidth": 2}}
 ]},
{"encoding": {
  "x": {"field": "x", "type": "quantitative", "scale": {"domain": [-2, 8], "range": [552, 716.7], "nice": false, "zero": false},
        "axis": {"orient": "bottom", "offset": -168.3, "values": [-2, 0, 2, 4, 6, 8], "tickSize": 3, "labelFontSize": 15.5, "labelPadding": 6, "labelExpr": "datum.value == 0 || datum.value == 4 || datum.value == 8 ? '' + datum.value : ''", "title": "d", "titleX": 351.7, "titleY": -117.4, "titleAngle": 0, "titleAlign": "left", "titleBaseline": "alphabetic", "titleFontSize": 19}},
  "y": {"field": "y", "type": "quantitative", "scale": {"domain": [0, 40], "range": [485.7, 398.3], "nice": false, "zero": false},
        "axis": {"orient": "left", "offset": -552, "values": [0, 10, 20, 30, 40], "tickSize": 3, "labelFontSize": 15.5, "labelPadding": 5, "labelExpr": "datum.value == 0 || datum.value == 40 ? '' + datum.value : ''", "title": null}}
 },
 "layer": [
  {"data": {"name": "dInGray"}, "mark": {"type": "line", "color": "#bdbdbd", "strokeWidth": 2}, "encoding": {"detail": {"field": "seg", "type": "nominal"}}},
  {"data": {"name": "dInBlack"}, "mark": {"type": "line", "color": "#231f20", "strokeWidth": 2}, "encoding": {"detail": {"field": "seg", "type": "nominal"}}},
  {"data": {"name": "dInRed"}, "mark": {"type": "line", "color": "#e2231a", "strokeWidth": 2}}
 ]}
],
"resolve": {"scale": {"x": "independent", "y": "independent", "color": "independent"}, "axis": {"x": "independent", "y": "independent"}, "legend": {"color": "independent"}},
"config": {
 "view": {"stroke": null},
 "font": "Open Sans",
 "axis": {"grid": false, "labelFont": "Open Sans", "labelFontSize": 14, "labelColor": "#231f20", "titleFont": "Open Sans", "titleFontSize": 15, "titleFontWeight": "normal", "titleColor": "#231f20", "domainColor": "#231f20", "domainWidth": 1, "tickColor": "#231f20", "tickSize": 4, "tickWidth": 1, "labelFlush": false, "labelOverlap": false, "labelPadding": 3},
 "legend": {"labelFont": "Open Sans", "labelFontSize": 15, "labelColor": "#231f20", "padding": 0, "rowPadding": 2}
}
}
